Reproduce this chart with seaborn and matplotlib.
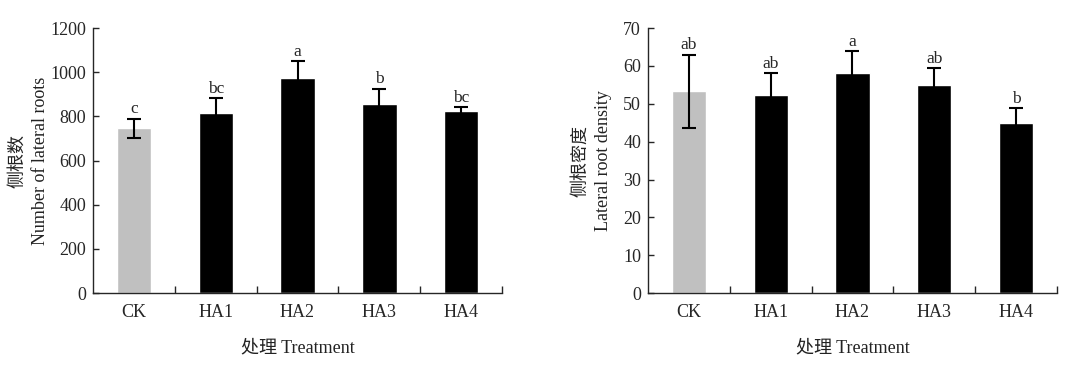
import numpy as np
import pandas as pd
import seaborn as sns
import matplotlib.pyplot as plt
from matplotlib.ticker import FixedLocator

treatments = ['CK', 'HA1', 'HA2', 'HA3', 'HA4']
# left panel: number of lateral roots
root_num = [747, 816, 974, 858, 824]
root_num_sd = [43, 66, 77, 67, 18]
root_num_sig = ['c', 'bc', 'a', 'b', 'bc']
# right panel: lateral root density
root_den = [53.3, 52.3, 58.1, 54.9, 45.0]
root_den_sd = [9.7, 5.8, 5.8, 4.5, 3.9]
root_den_sig = ['ab', 'ab', 'a', 'ab', 'b']

sns.set_theme(style='ticks')
plt.rcParams['font.family'] = ['Liberation Serif', 'Noto Sans CJK SC']
plt.rcParams['axes.linewidth'] = 1.0

bar_cols = ['#c0c0c0', '#000000', '#000000', '#000000', '#000000']

fig = plt.figure(figsize=(10.9, 3.7), dpi=100)
ax1 = fig.add_axes([0.0853, 0.208, 0.3753, 0.716])
ax2 = fig.add_axes([0.5945, 0.208, 0.3752, 0.716])


def draw(ax, vals, sds, sig, ymax, ystep, ylabel, ypad):
    df = pd.DataFrame({'t': treatments, 'v': vals})
    sns.barplot(data=df, x='t', y='v', hue='t', palette=bar_cols, legend=False,
                width=0.42, ax=ax, saturation=1, errorbar=None)
    x = np.arange(len(treatments))
    ax.errorbar(x, vals, yerr=sds, fmt='none', ecolor='black',
                elinewidth=1.5, capsize=5, capthick=1.5, zorder=5)
    for xi, v, s, lab in zip(x, vals, sds, sig):
        ax.annotate(lab, (xi, v + s), xytext=(0, 1), textcoords='offset points',
                    ha='center', va='bottom', fontsize=12.5)
    ax.set_xlim(-0.5, len(treatments) - 0.5)
    ax.set_ylim(0, ymax)
    ax.set_yticks(np.arange(0, ymax + ystep, ystep))
    ax.xaxis.set_minor_locator(FixedLocator(np.arange(0.5, len(treatments), 1)))
    ax.tick_params(axis='x', which='major', length=0, pad=8, labelsize=13)
    ax.tick_params(axis='x', which='minor', direction='in', length=5, width=1)
    ax.tick_params(axis='y', direction='in', length=4, width=1, labelsize=13, pad=5)
    ax.spines['top'].set_visible(False)
    ax.spines['right'].set_visible(False)
    ax.set_xlabel('处理 Treatment', fontsize=13, labelpad=13, color='#222222')
    ax.set_ylabel(ylabel, fontsize=13, labelpad=ypad, linespacing=1.45, color='#222222')


draw(ax1, root_num, root_num_sd, root_num_sig, 1200, 200,
     '侧根数\nNumber of lateral roots', 1)
draw(ax2, root_den, root_den_sd, root_den_sig, 70, 10,
     '侧根密度\nLateral root density', 8)

fig.savefig('out.png', dpi=100)
